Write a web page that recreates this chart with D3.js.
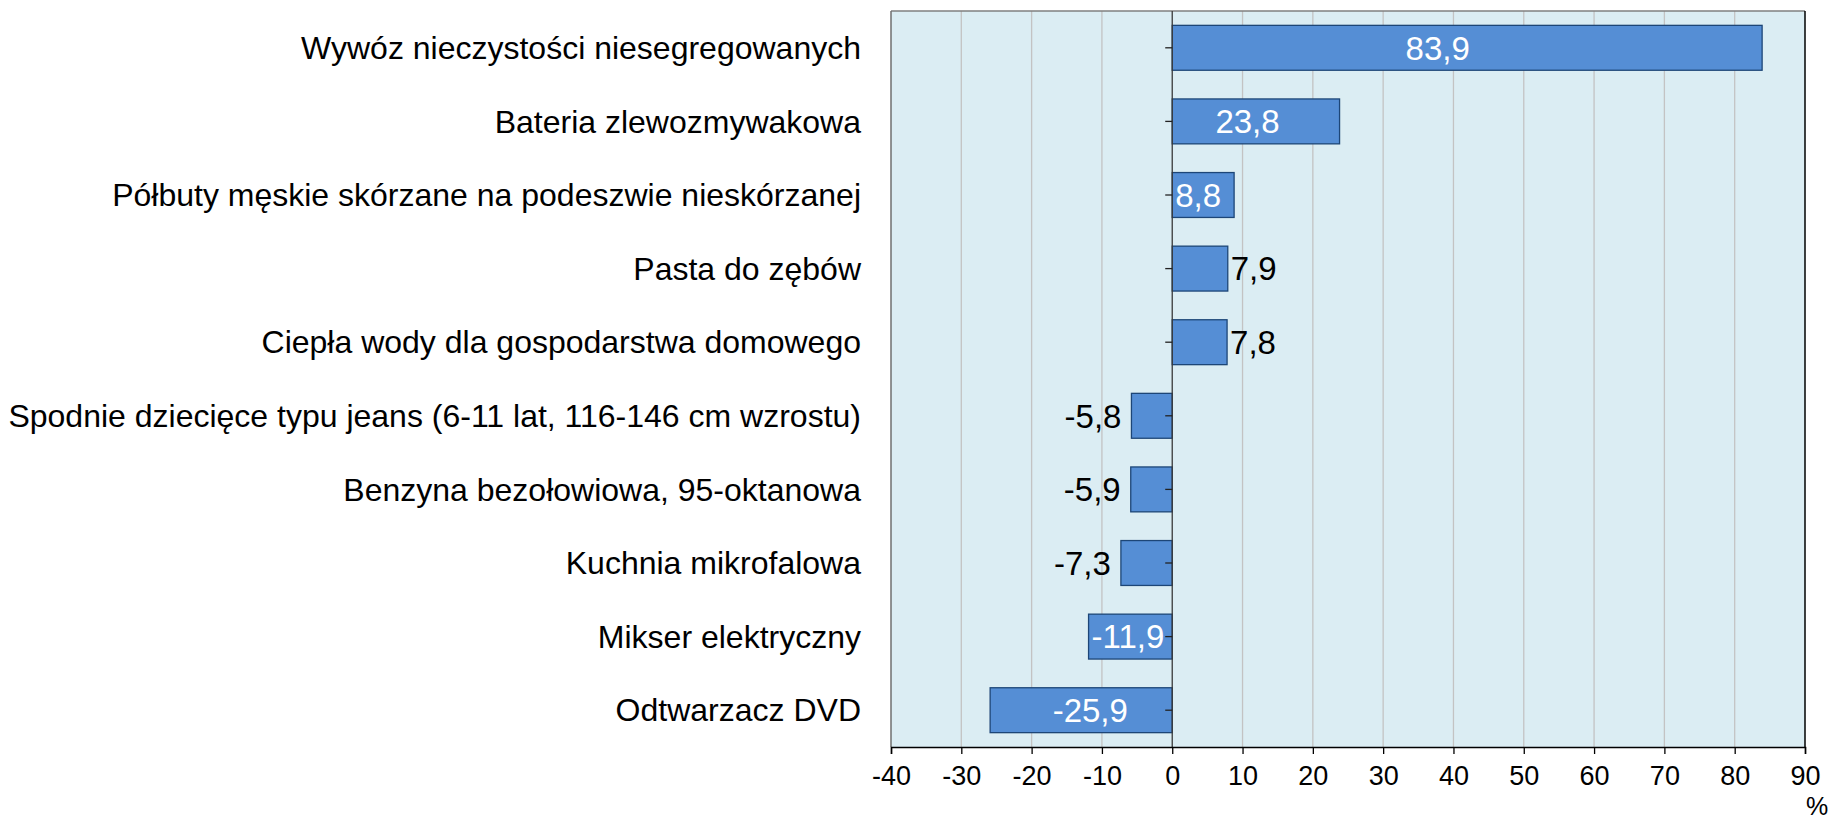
<!DOCTYPE html>
<html>
<head>
<meta charset="utf-8">
<script src="https://cdn.jsdelivr.net/npm/d3@7"></script>
<style>
  body { margin: 0; background: #fff; }
  text { font-family: "Liberation Sans", Arial, sans-serif; }
</style>
</head>
<body>
<div id="chart"></div>
<script>

var categories = [
  "Wywóz nieczystości niesegregowanych",
  "Bateria zlewozmywakowa",
  "Półbuty męskie skórzane na podeszwie nieskórzanej",
  "Pasta do zębów",
  "Ciepła wody dla gospodarstwa domowego",
  "Spodnie dziecięce typu jeans (6-11 lat, 116-146 cm wzrostu)",
  "Benzyna bezołowiowa, 95-oktanowa",
  "Kuchnia mikrofalowa",
  "Mikser elektryczny",
  "Odtwarzacz DVD"
];
var values = [83.9, 23.8, 8.8, 7.9, 7.8, -5.8, -5.9, -7.3, -11.9, -25.9];
var xTicks = [-40, -30, -20, -10, 0, 10, 20, 30, 40, 50, 60, 70, 80, 90];

// how each value label sits: inside (near middle), inside at base, inside at end, outside end
var labelMode = ["center", "center", "base", "outside", "outside", "outside", "outside", "outside", "end", "center"];

var margin = { left: 891, right: 25, top: 11, bottom: 72 };
var W = 1830, H = 819;
var width = W - margin.left - margin.right;
var height = H - margin.top - margin.bottom;

var svg = d3.select("#chart").append("svg")
    .attr("width", W)
    .attr("height", H);

var g = svg.append("g")
    .attr("transform", "translate(" + margin.left + "," + margin.top + ")");

var x = d3.scaleLinear().domain([-40, 90]).range([0, width]);
var y = d3.scaleBand().domain(categories).range([0, height]).paddingInner(0.39).paddingOuter(0.195);

// plot background
g.append("rect")
    .attr("width", width)
    .attr("height", height)
    .attr("fill", "#dbedf3");

// gridlines
g.selectAll(".grid")
    .data(xTicks.filter(function(d){ return d !== 0 && d !== -40 && d !== 90; }))
    .enter().append("line")
    .attr("class", "grid")
    .attr("x1", function(d){ return x(d); })
    .attr("x2", function(d){ return x(d); })
    .attr("y1", 0)
    .attr("y2", height)
    .attr("stroke", "#c3c3c3")
    .attr("stroke-width", 1.3);

// frame
g.append("line").attr("x1", 0).attr("x2", width).attr("y1", 0).attr("y2", 0)
    .attr("stroke", "#7f7f7f").attr("stroke-width", 1.5);
g.append("line").attr("x1", 0).attr("x2", 0).attr("y1", 0).attr("y2", height)
    .attr("stroke", "#6f6f6f").attr("stroke-width", 1.5);
g.append("line").attr("x1", width).attr("x2", width).attr("y1", 0).attr("y2", height)
    .attr("stroke", "#000").attr("stroke-width", 1.5);

// bars
g.selectAll(".bar")
    .data(values)
    .enter().append("rect")
    .attr("class", "bar")
    .attr("x", function(d){ return x(Math.min(0, d)); })
    .attr("y", function(d, i){ return y(categories[i]); })
    .attr("width", function(d){ return Math.abs(x(d) - x(0)); })
    .attr("height", y.bandwidth())
    .attr("fill", "#558ed5")
    .attr("stroke", "#1d4677")
    .attr("stroke-width", 1.3);

// zero line with category ticks
g.append("line")
    .attr("x1", x(0)).attr("x2", x(0))
    .attr("y1", 0).attr("y2", height)
    .attr("stroke", "#3a3a3a").attr("stroke-width", 1.3);

g.selectAll(".ytick")
    .data(categories)
    .enter().append("line")
    .attr("x1", x(0) - 7).attr("x2", x(0))
    .attr("y1", function(d){ return y(d) + y.bandwidth() / 2; })
    .attr("y2", function(d){ return y(d) + y.bandwidth() / 2; })
    .attr("stroke", "#222").attr("stroke-width", 1.3);

// category labels
g.selectAll(".cat")
    .data(categories)
    .enter().append("text")
    .attr("class", "cat")
    .attr("x", -30)
    .attr("y", function(d){ return y(d) + y.bandwidth() / 2; })
    .attr("dy", "0.35em")
    .attr("text-anchor", "end")
    .style("font-size", "32px")
    .attr("fill", "#000")
    .text(function(d){ return d; });

// x axis
var xAxis = d3.axisBottom(x).tickValues(xTicks).tickSize(7).tickPadding(12)
    .tickFormat(function(d){ return String(d); });
var ax = g.append("g")
    .attr("transform", "translate(0," + height + ")")
    .call(xAxis);
ax.select(".domain").attr("stroke", "#000").attr("stroke-width", 1.5);
ax.selectAll(".tick line").attr("stroke", "#000").attr("stroke-width", 1.3);
ax.selectAll(".tick text")
    .style("font-size", "27px")
    .style("font-family", "'Liberation Sans', Arial, sans-serif")
    .attr("fill", "#000");

g.append("text")
    .attr("x", width + 1)
    .attr("y", height + 68)
    .style("font-size", "25px")
    .attr("fill", "#000")
    .text("%");

// value labels
var fmt = function(v){ return d3.format(".1f")(v).replace(".", ",").replace("−", "-"); };

g.selectAll(".val")
    .data(values)
    .enter().append("text")
    .attr("class", "val")
    .attr("y", function(d, i){ return y(categories[i]) + y.bandwidth() / 2; })
    .attr("dy", "0.36em")
    .style("font-size", "33px")
    .each(function(d, i){
        var t = d3.select(this);
        var mode = labelMode[i];
        var neg = d < 0;
        if (mode === "center") {
            t.attr("x", x(0) + (x(d) - x(0)) * 0.45).attr("text-anchor", "middle").attr("fill", "#fff");
        } else if (mode === "base") {
            t.attr("x", x(0) + 3).attr("text-anchor", "start").attr("fill", "#fff");
        } else if (mode === "end") {
            t.attr("x", x(d) + 3).attr("text-anchor", "start").attr("fill", "#fff");
        } else {
            t.attr("x", neg ? x(d) - 10 : x(d) + 3)
             .attr("text-anchor", neg ? "end" : "start")
             .attr("fill", "#000");
        }
    })
    .text(function(d){ return fmt(d); });

</script>
</body>
</html>
